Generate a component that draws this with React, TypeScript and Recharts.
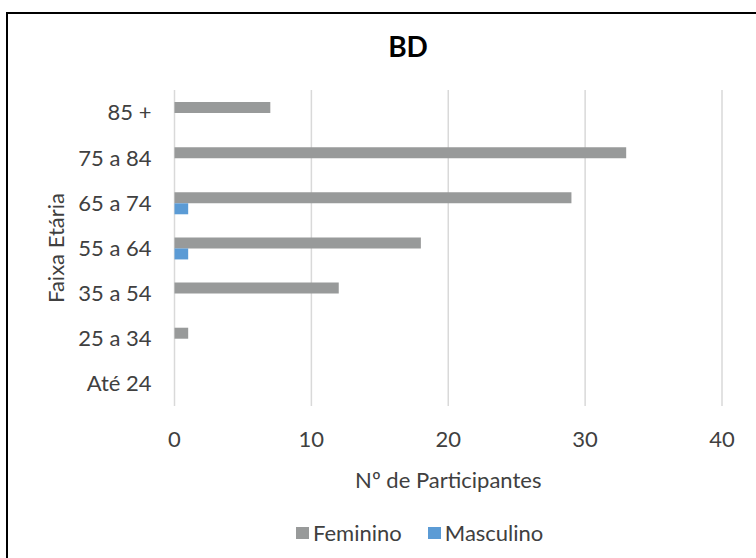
import React from 'react';
import { BarChart, Bar, XAxis, YAxis, CartesianGrid, Legend } from 'recharts';

const faixas = ['85 +', '75 a 84', '65 a 74', '55 a 64', '35 a 54', '25 a 34', 'Até 24'];
const feminino = [7, 33, 29, 18, 12, 1, 0];
const masculino = [0, 0, 1, 1, 0, 0, 0];
const xTicks = [0, 10, 20, 30, 40];

const data = faixas.map((f, i) => ({
  faixa: f,
  Feminino: feminino[i],
  Masculino: masculino[i],
}));

const FONT = 'Lato, "Open Sans", sans-serif';
const TEXT = '#404040';
const GRAY = '#989a9a';
const BLUE = '#5b9bd5';
const FS = 22;

function LegendBox() {
  const items = [
    { name: 'Feminino', color: GRAY },
    { name: 'Masculino', color: BLUE },
  ];
  return (
    <div style={{ display: 'flex', alignItems: 'center', paddingLeft: 296, fontFamily: FONT, fontSize: FS, color: TEXT }}>
      {items.map((it, i) => (
        <div key={it.name} style={{ display: 'flex', alignItems: 'center', marginRight: i === 0 ? 26 : 0 }}>
          <span style={{ width: 13, height: 12, background: it.color, marginRight: 4, display: 'inline-block' }} />
          <span>{it.name}</span>
        </div>
      ))}
    </div>
  );
}

export default function App() {
  return (
    <div style={{ position: 'fixed', left: 0, top: 0, width: 756, height: 558, overflow: 'hidden', background: '#fff' }}>
      {/* moldura do gráfico */}
      <div style={{ position: 'absolute', left: 6, top: 12, width: 800, height: 600, border: '2px solid #000', boxSizing: 'border-box' }} />
      <div style={{ position: 'absolute', left: 0, top: 29, width: 816, textAlign: 'center', fontFamily: FONT, fontWeight: 700, fontSize: 28, color: '#000' }}>
        BD
      </div>
      <BarChart
        width={756}
        height={558}
        data={data}
        layout="vertical"
        margin={{ top: 90, right: 34, left: 74.5, bottom: 112 }}
        barSize={11}
        barGap={0}
        style={{ position: 'absolute', left: 0, top: 0 }}
      >
        <CartesianGrid horizontal={false} stroke="#d9d9d9" strokeWidth={1.5} />
        <XAxis
          type="number"
          domain={[0, 40]}
          ticks={xTicks}
          axisLine={false}
          tickLine={false}
          tickSize={0}
          tickMargin={25}
          height={40}
          tick={{ fill: TEXT, fontSize: FS, fontFamily: FONT }}
          label={{ value: 'Nº de Participantes', position: 'bottom', offset: 26, fill: TEXT, fontSize: FS, fontFamily: FONT }}
        />
        <YAxis
          type="category"
          dataKey="faixa"
          width={100}
          axisLine={false}
          tickLine={false}
          tickSize={0}
          tickMargin={23}
          tick={{ fill: TEXT, fontSize: FS, fontFamily: FONT }}
          label={{ value: 'Faixa Etária', angle: -90, position: 'left', offset: 18.5, fill: TEXT, fontSize: FS, fontFamily: FONT, style: { textAnchor: 'middle' } }}
        />
        <Legend
          layout="horizontal"
          verticalAlign="middle"
          align="center"
          wrapperStyle={{ left: 0, top: 519, width: 756 }}
          content={() => <LegendBox />}
        />
        <Bar dataKey="Feminino" fill={GRAY} isAnimationActive={false} />
        <Bar dataKey="Masculino" fill={BLUE} isAnimationActive={false} />
      </BarChart>
    </div>
  );
}
